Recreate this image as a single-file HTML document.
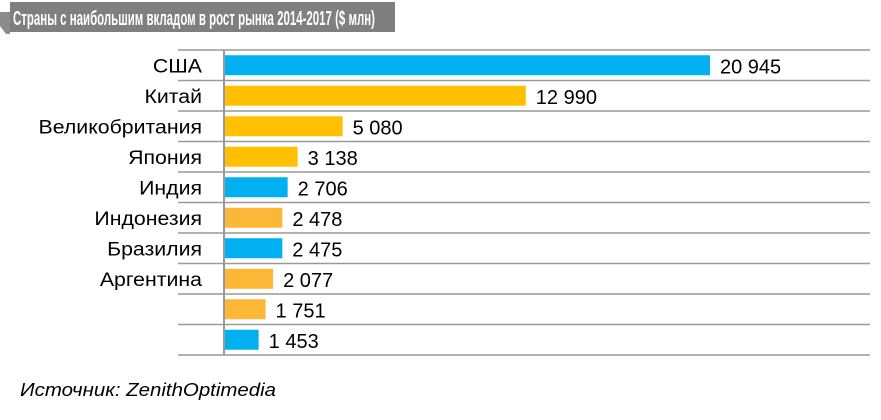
<!DOCTYPE html>
<html><head><meta charset="utf-8"><style>
body{margin:0;width:881px;height:415px;background:#fff;overflow:hidden;font-family:"Liberation Sans",sans-serif;}
</style></head><body>
<svg width="881" height="415">
<polygon points="0,12 10,12 10,34 6,34 0,26" fill="#8c8c8c"/>
<rect x="10" y="2" width="385" height="30" fill="#7f7f7f"/>
<text x="13" y="25" fill="#fff" font-size="20" font-weight="bold" textLength="362" lengthAdjust="spacingAndGlyphs">Страны с наибольшим вкладом в рост рынка 2014-2017 ($ млн)</text>
<g id="plot"></g>
<line x1="224" y1="50" x2="224" y2="355" stroke="#999" stroke-width="2"/>
<text x="20" y="396" font-size="18" font-style="italic" fill="#000" textLength="256" lengthAdjust="spacingAndGlyphs">Источник: ZenithOptimedia</text>
</svg>
<script>
const categories=["США","Китай","Великобритания","Япония","Индия","Индонезия","Бразилия","Аргентина","",""];
const values=[20945,12990,5080,3138,2706,2478,2475,2077,1751,1453];
const labels=["20 945","12 990","5 080","3 138","2 706","2 478","2 475","2 077","1 751","1 453"];
const colorKeys=["b","g","g","g","b","o","b","o","o","b"];
const pal={b:"#00b0f0",g:"#ffc000",o:"#fbb735"};
const g=document.getElementById('plot');
const ns="http://www.w3.org/2000/svg";
const top0=50,rowH=30.5,x0=225,scale=485/20945;
const xs=v=>x0+v*scale;
function mk(t,a){const e=document.createElementNS(ns,t);for(const k in a)e.setAttribute(k,a[k]);g.appendChild(e);return e;}
for(let i=0;i<=values.length;i++){
  const l=mk('line',{x1:178,x2:870,y1:top0+i*rowH,y2:top0+i*rowH,stroke:'#999','stroke-width':1.5});
  
  
}
values.forEach((v,i)=>{
  const cy=top0+i*rowH+rowH/2;
  const r=mk('rect',{x:x0,y:cy-10,width:xs(v)-x0,height:20,fill:pal[colorKeys[i]]});
  
  
  const t=mk('text',{x:xs(v)+10,y:cy+8,'font-size':20,fill:'#000'});
  t.textContent=labels[i];
  
  
  const c=mk('text',{x:202,y:cy+7,'font-size':19,fill:'#000','text-anchor':'end'});
  c.textContent=categories[i];
  
  
  if(categories[i]){const w=c.getComputedTextLength();c.setAttribute('textLength',w*1.12);c.setAttribute('lengthAdjust','spacingAndGlyphs');}
});
</script>
</body></html>
